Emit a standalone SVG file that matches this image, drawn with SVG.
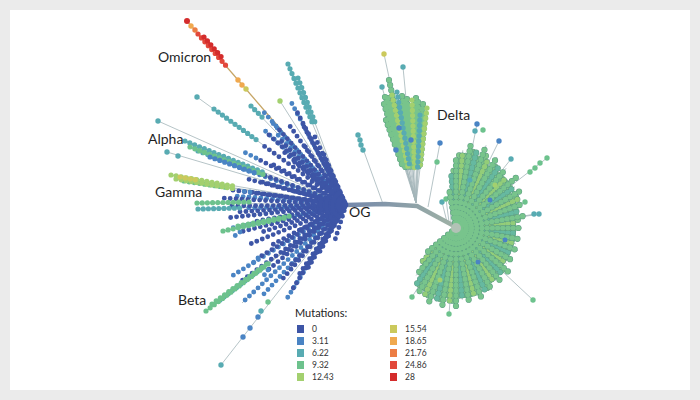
<svg xmlns="http://www.w3.org/2000/svg" xmlns:xlink="http://www.w3.org/1999/xlink" width="700" height="400" viewBox="0 0 700 400">
<style>
.ln{fill:none;stroke:#a3b5b9;stroke-width:0.8}
.dt{fill:none;stroke-linecap:round;stroke-width:5.2;stroke-dasharray:0 5.2}
.dtb{fill:none;stroke-linecap:round;stroke-width:4.9;stroke-dasharray:0 5.9}
.oa{stroke-dashoffset:0}.obb{stroke-dashoffset:2}.oc{stroke-dashoffset:4}.od{stroke-dashoffset:3}
.ol{fill:none;stroke-linecap:round;stroke-width:6.2;stroke-dasharray:0 5.2}
.b0{stroke:#3d55a6}.b1{stroke:#4a84c4}.b2{stroke:#58abb2}.b3{stroke:#6dc28d}.b4{stroke:#a3d06f}.b5{stroke:#cbc95c}.b6{stroke:#f0a94f}.b7{stroke:#ec7d44}.b8{stroke:#e2483b}.b9{stroke:#d42c2c}
.g1{stroke:#78c48c}.g2{stroke:#93cd79}.g3{stroke:#66b9a0}.g4{stroke:#80c78a}
.og{stroke:#5b9c83}
.f0{fill:#3d55a6}.f1{fill:#4a84c4}.f2{fill:#58abb2}.f3{fill:#6dc28d}.f4{fill:#a3d06f}.f5{fill:#cbc95c}.f6{fill:#f0a94f}.f7{fill:#ec7d44}.f8{fill:#e2483b}.f9{fill:#d42c2c}
.lab{font-family:Lato,"Open Sans",sans-serif;font-size:14px;fill:#1e1e1e}
.leg{font-family:Lato,"Open Sans",sans-serif;font-size:8.5px;fill:#333}
</style>
<defs>
<linearGradient id="trunk" x1="346" y1="0" x2="456" y2="0" gradientUnits="userSpaceOnUse">
<stop offset="0" stop-color="#7488ab"/><stop offset="1" stop-color="#9fb2a5"/>
</linearGradient>
<path id="rg1" d="M456 228L449 188.6M456 228L456 158M456 228L470.8 144.3M456 228L486.1 145.3M456 228L497 157M456 228L506.1 168.3M456 228L517.3 176.6M456 228L521 190.5M456 228L523.7 203.4M456 228L524.9 215.8M456 228L522 228M456 228L519 239.1M456 228L518 250.6M456 228L511.4 260M456 228L508.1 271.7M456 228L501 281.6M456 228L492 290.4M456 228L481.3 297.5M456 228L469.2 302.8M456 228L456 306M456 228L442.1 306.8M456 228L429.3 301.3M456 228L418 293.8M456 228L416.1 275.5M456 228L425.4 253.7"/>
<path id="rg2" d="M456 228L462.8 150.3M456 228L488.1 159.1M456 228L505.5 178.5M456 228L517.6 199.3M456 228L517.8 222.6M456 228L515.9 244M456 228L506.8 263.6M456 228L493.9 282.1M456 228L474.1 295.6M456 228L449.5 301.7M456 228L424.7 295.1M456 228L420.6 263.4"/>
<path id="rg3" d="M456 228L451.2 173.2M456 228L476.7 150.7M456 228L498.4 167.4M456 228L515 186.7M456 228L519.8 210.9M456 228L515.8 233.2M456 228L510.4 253.4M456 228L501.3 273.3M456 228L484.7 289.6M456 228L462.3 299.7M456 228L436.3 301.4M456 228L415.8 285.3"/>
<path id="rg4" d="M456 228L453.4 168.1M456 228L459.2 154.1M456 228L466.2 150.7M456 228L473.3 149.9M456 228L478.9 155.5M456 228L485.9 155.9M456 228L489.2 164.1M456 228L496.8 163.9M456 228L498.6 172.5M456 228L504.6 174.9M456 228L506.1 182.1M456 228L511.5 185.4M456 228L511.7 192.5M456 228L516.3 196.6M456 228L515.1 203.5M456 228L518.9 208.2M456 228L516.5 214.6M456 228L519.4 219.6M456 228L515.9 225.4M456 228L517.9 230.7M456 228L513.5 235.6M456 228L516.5 241.4M456 228L511.3 245.4M456 228L513.3 251.7M456 228L507.4 254.8M456 228L508.3 261.3M456 228L503.6 264.5M456 228L503.2 271.2M456 228L497.9 273.7M456 228L496.2 280.4M456 228L490.4 282M456 228L487.4 288.3M456 228L481.3 289M456 228L477 294.8M456 228L470.7 294.4M456 228L465.4 299.4M456 228L459.1 297.9M456 228L452.8 301.9M456 228L446.6 299.4M456 228L439.6 302.2M456 228L434.3 296.7M456 228L427.7 296.4M456 228L423.7 290.1M456 228L418.4 287M456 228L418.3 277.2M456 228L423.6 263.4"/>
<path id="dl3" d="M389 80L408.5 168M385 97L405.7 168M384 104L404.7 168M388 98L406.7 168M402 96L411.4 168M407 99L413 168M418 102L416.7 168M423 104L418.5 168M389 112L405.6 168M394 120L406.7 168M386 120L403.3 168M400 105L410.3 168M410 108L413.8 168M415 112L415.6 168M425 118L419.7 168M391 106L407 168M405 102L412.2 168M399 115L409.2 168M422 109L418.2 168M416 98L416 168"/>
</defs>
<rect width="700" height="400" fill="#ebebeb"/>
<rect x="10" y="10" width="680" height="380" fill="#ffffff"/>

<g id="connectors">
<path class="ln" d="M346 205L288 64M346 205L298 78M346 205L280 101M346 205L251 106M346 205L197 97M346 205L158 121M346 205L185 141M346 205L190 147M346 205L198 151M346 205L210 157M346 205L167 152M346 205L171 175M346 205L176 179M346 205L184 181M346 205L197 203M346 205L198 209M346 205L223 231M346 205L238 226M346 205L206 311M346 205L212 304M346 205L220 300M346 205L221 365M346 205L242 303"/>
<path d="M346 205L187 21" fill="none" stroke="#c6a565" stroke-width="1.3"/>
<path class="ln" d="M416 203L384 54M416 203L403 67M416 203L382 87M416 203L384 104M416 203L388 98M416 203L392 95M416 203L397 92M416 203L402 96M416 203L407 99M416 203L412 100M416 203L418 102M416 203L423 104M416 203L427 108M416 203L389 112M416 203L420 115M416 203L394 120M428 207L440 143M383 204L358 135M447 222L442 202M449 222L446 199M451 223L450 197"/>
<path class="ln" d="M456 228L477 124M456 228L499 141M456 228L547 158M456 228L539 214M456 228L535 214M456 228L533 300M456 228L449 314M456 228L412 297M456 228L525 202M456 228L511 159"/>
<use xlink:href="#rg1" class="ln"/><use xlink:href="#rg2" class="ln"/><use xlink:href="#rg3" class="ln"/>
<path d="M346 205L385 204L417 206L456 227" fill="none" stroke="url(#trunk)" stroke-width="4.5" stroke-linejoin="round"/>
</g>

<g id="og-cluster">
<path class="dtb od b1" d="M346 205L290 100M346 205L270 120M346 205L262 128M346 205L240 168M346 205L236 196M346 205L244 208M346 205L232 228M346 205L254 262M346 205L262 296M346 205L242 303M346 205L286 300M346 205L278 135M346 205L232 276"/>
<path class="dtb oa b0" d="M346 205L303 125M346 205L276 126M346 205L264 146M346 205L272 164M346 205L304 145M346 205L244 178M346 205L250 192M346 205L238 212M346 205L240 232M346 205L270 246M346 205L268 270M346 205L298 276M346 205L318 255M346 205L335 240M346 205L310 180"/>
<path class="dtb obb b0" d="M346 205L296 110M346 205L268 134M346 205L284 152M346 205L250 170M346 205L314 135M346 205L262 182M346 205L222 198M346 205L226 218M346 205L262 232M346 205L258 258M346 205L290 266M346 205L292 290M346 205L240 282M346 205L300 230"/>
<path class="dtb oc b0" d="M346 205L287 122M346 205L280 140M346 205L256 158M346 205L292 160M346 205L322 150M346 205L232 190M346 205L228 206M346 205L252 222M346 205L250 244M346 205L280 256M346 205L280 282M346 205L308 268M346 205L330 170M346 205L290 190"/>
<path class="dtb b1" d="M276 126L262 110M256 158L244 152M250 192L240 191M258 258L250 266M240 232L232 238M268 270L262 278"/>
<path class="dt b2" d="M288 64L312 122M298 78L316 125M251 106L265 120M214 109L258 141M185 141L265 173M198 151L262 174M198 209L240 208M220 300L262 268"/>
<path class="dt b3" d="M190 147L265 175M184 181L230 188M197 203L250 202M223 231L285 218M238 226L290 216M206 311L272 261M212 304L268 263"/>
<path class="dt b4" d="M171 175L233 186M176 179L236 189"/>
<path class="dt b5" d="M180 177L200 180.5"/>
<path class="dt b1" d="M210 157L258 174"/>
<circle class="f2" cx="197" cy="97" r="2.7"/><circle class="f2" cx="158" cy="121" r="2.7"/><circle class="f2" cx="167" cy="152" r="2.7"/><circle class="f2" cx="178" cy="156" r="2.7"/><circle class="f4" cx="280" cy="101" r="2.7"/>
<circle class="f2" cx="221" cy="365" r="2.7"/><circle class="f1" cx="243" cy="337" r="2.7"/><circle class="f1" cx="250" cy="328" r="2.7"/><circle class="f1" cx="258" cy="317" r="2.7"/><circle class="f2" cx="261" cy="311" r="2.7"/><circle class="f3" cx="268" cy="302" r="2.7"/>
</g>

<g id="omicron-cluster">
<path class="dt b8" d="M198 34L228 68"/>
<path class="dt b9" d="M204 37L224 60"/>
<circle class="f9" cx="187" cy="21" r="3"/><circle class="f6" cx="191" cy="26" r="2.7"/><circle class="f7" cx="195" cy="30" r="2.7"/>
<circle class="f6" cx="238" cy="80" r="2.7"/><circle class="f6" cx="242" cy="85" r="2.7"/><circle class="f5" cx="246" cy="89" r="2.7"/>
</g>

<g id="delta-cluster">
<use xlink:href="#dl3" class="ol og"/>
<use xlink:href="#dl3" class="dt g1"/>
<path class="dt b4" d="M392 95L408.2 168M412 100L414.6 168M427 108L420 168"/>
<path class="dt b2" d="M397 92L410 168M420 115L417.6 168"/>
<circle class="f5" cx="384" cy="54" r="2.7"/><circle class="f2" cx="403" cy="67" r="2.7"/><circle class="f2" cx="382" cy="87" r="2.7"/>
<circle class="f1" cx="399" cy="128" r="2.7"/><circle class="f1" cx="411" cy="140" r="2.7"/><circle class="f1" cx="396" cy="150" r="2.7"/>
<circle class="f1" cx="440" cy="143" r="2.7"/><circle class="f3" cx="437" cy="162" r="2.7"/>
<circle class="f2" cx="358" cy="135" r="2.7"/><circle class="f2" cx="360" cy="140" r="2.7"/><circle class="f2" cx="361" cy="145" r="2.7"/><circle class="f2" cx="363" cy="150" r="2.7"/>
<circle class="f2" cx="442" cy="202" r="2.7"/><circle class="f3" cx="446" cy="199" r="2.7"/><circle class="f3" cx="450" cy="197" r="2.7"/>
</g>

<g id="main-cluster">
<use xlink:href="#rg4" class="ol og"/>
<use xlink:href="#rg4" class="dt g4"/>
<use xlink:href="#rg3" class="ol og"/>
<use xlink:href="#rg3" class="dt g3"/>
<use xlink:href="#rg2" class="ol og"/>
<use xlink:href="#rg2" class="dt g2"/>
<use xlink:href="#rg1" class="ol og"/>
<use xlink:href="#rg1" class="dt g1"/>
<circle cx="456" cy="228" r="5" fill="#b2c2b6"/>
<circle class="f1" cx="477" cy="124" r="2.7"/><circle class="f2" cx="475" cy="131" r="2.7"/><circle class="f3" cx="483" cy="130" r="2.7"/><circle class="f1" cx="499" cy="141" r="2.7"/><circle class="f2" cx="511" cy="159" r="2.7"/>
<circle class="f3" cx="547" cy="158" r="2.7"/><circle class="f3" cx="540" cy="163" r="2.7"/><circle class="f3" cx="535" cy="168" r="2.7"/><circle class="f3" cx="530" cy="172" r="2.7"/>
<circle class="f2" cx="539" cy="214" r="2.7"/><circle class="f2" cx="534" cy="214" r="2.7"/><circle class="f3" cx="525" cy="202" r="2.7"/>
<circle class="f3" cx="533" cy="300" r="2.7"/><circle class="f3" cx="449" cy="314" r="2.7"/><circle class="f3" cx="412" cy="297" r="2.7"/>
<circle class="f1" cx="490" cy="200" r="2.5"/><circle class="f1" cx="505" cy="240" r="2.5"/><circle class="f2" cx="470" cy="180" r="2.5"/><circle class="f1" cx="478" cy="262" r="2.5"/><circle class="f4" cx="440" cy="280" r="2.5"/><circle class="f4" cx="495" cy="185" r="2.5"/>
</g>

<g id="labels">
<text class="lab" x="158" y="62">Omicron</text>
<text class="lab" x="148" y="144">Alpha</text>
<text class="lab" x="155" y="197">Gamma</text>
<text class="lab" x="178" y="305">Beta</text>
<text class="lab" x="437" y="120">Delta</text>
<text class="lab" x="349" y="217">OG</text>
</g>

<g id="legend">
<text x="295" y="317" style="font-family:Lato,'Open Sans',sans-serif;font-size:11px;fill:#222">Mutations:</text>
<rect class="f0" x="297" y="325" width="7" height="8"/><text class="leg" x="312" y="332">0</text>
<rect class="f1" x="297" y="337" width="7" height="8"/><text class="leg" x="312" y="344">3.11</text>
<rect class="f2" x="297" y="349" width="7" height="8"/><text class="leg" x="312" y="356">6.22</text>
<rect class="f3" x="297" y="361" width="7" height="8"/><text class="leg" x="312" y="368">9.32</text>
<rect class="f4" x="297" y="373" width="7" height="8"/><text class="leg" x="312" y="380">12.43</text>
<rect class="f5" x="390" y="325" width="7" height="8"/><text class="leg" x="405" y="332">15.54</text>
<rect class="f6" x="390" y="337" width="7" height="8"/><text class="leg" x="405" y="344">18.65</text>
<rect class="f7" x="390" y="349" width="7" height="8"/><text class="leg" x="405" y="356">21.76</text>
<rect class="f8" x="390" y="361" width="7" height="8"/><text class="leg" x="405" y="368">24.86</text>
<rect class="f9" x="390" y="373" width="7" height="8"/><text class="leg" x="405" y="380">28</text>
</g>
</svg>
